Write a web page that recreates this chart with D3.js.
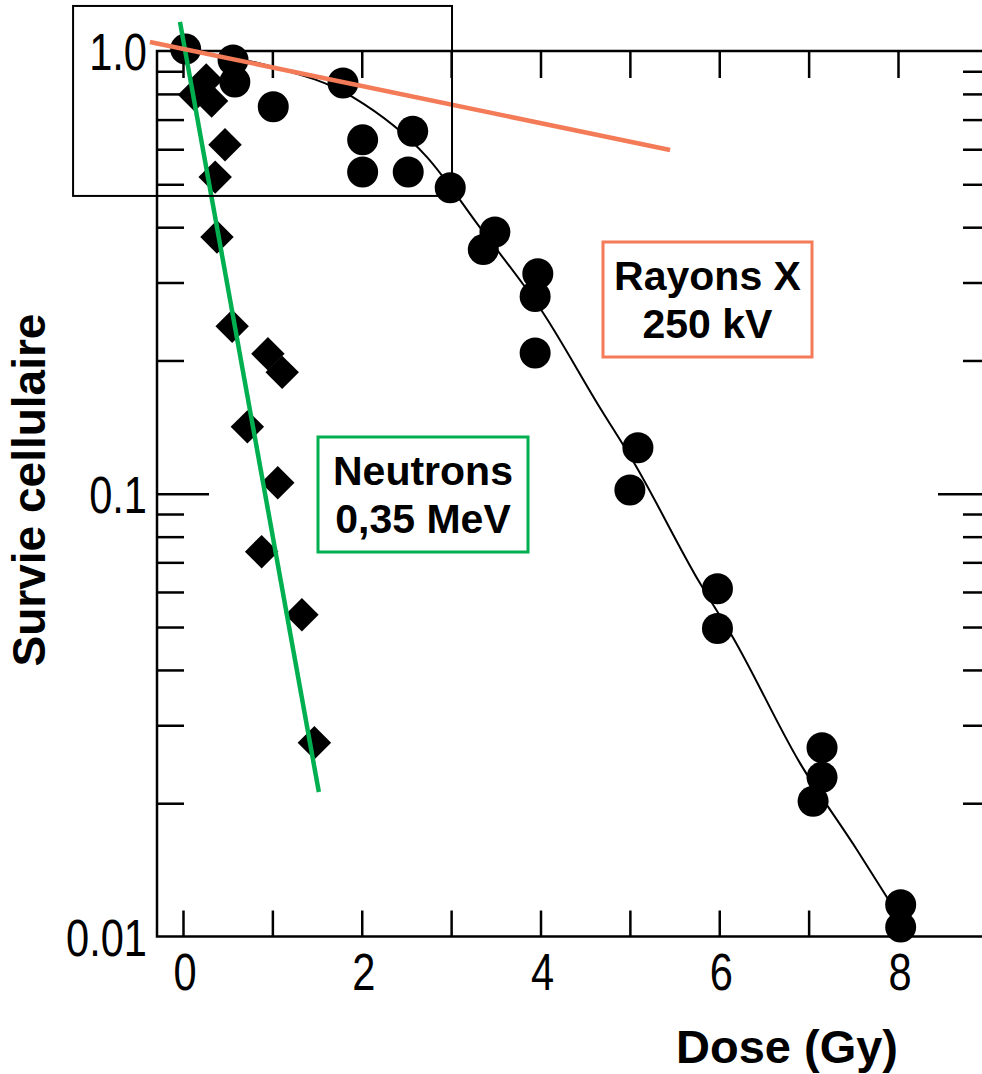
<!DOCTYPE html>
<html>
<head>
<meta charset="utf-8">
<script src="https://cdn.jsdelivr.net/npm/d3@7"></script>
<style>
    body { margin: 0; background: #fff; }
    svg { display: block; font-family: 'Liberation Sans', Arial, sans-serif; }
    .axis path, .axis line { stroke: #000; stroke-width: 2.5; fill: none; }
    .tick-label { font-size: 52px; fill: #000; }
    .title { font-size: 46px; font-weight: bold; fill: #000; }
    .legend text { font-size: 41px; font-weight: bold; text-anchor: middle; fill: #000; }
</style>
</head>
<body>
<svg id="chart" width="982" height="1074"></svg>
<script>
// dose (Gy), survival fraction
const xrayPoints = [
    [0.03, 1.01], [0.56, 0.954], [0.58, 0.851], [1.01, 0.748], [1.79, 0.847],
    [2.01, 0.630], [2.01, 0.533], [2.57, 0.659], [2.52, 0.533], [2.99, 0.491],
    [3.49, 0.390], [3.36, 0.356], [3.97, 0.314], [3.94, 0.279], [3.94, 0.208],
    [5.09, 0.127], [5.00, 0.102], [5.98, 0.061], [5.98, 0.0496], [7.15, 0.0267],
    [7.15, 0.0229], [7.05, 0.0202], [8.03, 0.0118], [8.03, 0.0105]
];
const neutronPoints = [
    [0.13, 0.796], [0.26, 0.860], [0.32, 0.771], [0.47, 0.614], [0.36, 0.519],
    [0.38, 0.380], [0.55, 0.239], [0.95, 0.207], [1.11, 0.188], [0.72, 0.1416],
    [1.06, 0.1059], [0.88, 0.0740], [1.33, 0.0533], [1.47, 0.0274]
];
// fitted curve through the X-ray data
const xrayCurve = [
    [0, 1.0], [0.97, 0.925], [1.9, 0.787], [2.73, 0.576], [3.32, 0.40],
    [4.03, 0.256], [4.66, 0.157], [5.03, 0.119], [5.78, 0.063], [6.15, 0.0475],
    [6.9, 0.0247], [7.54, 0.0157], [8.0, 0.0112]
];
// initial slopes drawn over the figure
const xraySlope = [[-0.37, 1.048], [5.45, 0.5975]];
const neutronSlope = [[-0.034, 1.163], [1.52, 0.0212]];
// highlighted shoulder region
const shoulderBox = {x0: -1.23, x1: 3.01, y0: 1.264, y1: 0.4706};

const doseTicks = [0, 1, 2, 3, 4, 5, 6, 7, 8, 9];
const doseLabels = [0, 2, 4, 6, 8];
const survivalMinor = [0.02, 0.03, 0.04, 0.05, 0.06, 0.07, 0.08, 0.09,
                       0.2, 0.3, 0.4, 0.5, 0.6, 0.7, 0.8, 0.9];
const survivalMajor = [0.1];
const survivalLabels = [[1, '1.0'], [0.1, '0.1'], [0.01, '0.01']];

const green = '#00b050';
const orange = '#f37b58';

const svg = d3.select('#chart');
svg.append('rect').attr('width', 982).attr('height', 1074).attr('fill', '#fff');

const frame = {left: 157, right: 990, top: 51, bottom: 936.5};

// x: 0 Gy sits at 183px, 8 Gy at 898px
const xScale = d3.scaleLinear().domain([0, 8]).range([183, 898]);
const yScale = d3.scaleLog().domain([0.01, 1]).range([frame.bottom, frame.top]);

// frame: axes on all four sides, ticks pointing inward
function frameAxis(gen, tx, ty, values, size) {
    svg.append('g')
        .attr('class', 'axis')
        .attr('transform', 'translate(' + tx + ',' + ty + ')')
        .call(gen.tickValues(values).tickSize(-size).tickSizeOuter(0).tickFormat(''))
        .call(g => g.select('.domain').remove());
}
frameAxis(d3.axisLeft(yScale), frame.left, 0, survivalMinor, 27);
frameAxis(d3.axisLeft(yScale), frame.left, 0, survivalMajor, 52);
frameAxis(d3.axisRight(yScale), frame.right, 0, survivalMinor, 27);
frameAxis(d3.axisRight(yScale), frame.right, 0, survivalMajor, 52);
frameAxis(d3.axisBottom(xScale), 0, frame.bottom, doseTicks, 26);
frameAxis(d3.axisTop(xScale), 0, frame.top, doseTicks, 27);

svg.append('path')
    .attr('d', 'M' + frame.left + ',' + frame.top + 'H' + frame.right + 'V' + frame.bottom + 'H' + frame.left + 'Z')
    .attr('fill', 'none').attr('stroke', '#000').attr('stroke-width', 2.5);

// tick labels, condensed
svg.selectAll('.ylab')
    .data(survivalLabels)
    .enter().append('text')
    .attr('class', 'tick-label')
    .attr('text-anchor', 'end')
    .attr('transform', d => 'translate(147,' + (yScale(d[0]) + 19) + ') scale(0.8,1)')
    .text(d => d[1]);

svg.selectAll('.xlab')
    .data(doseLabels)
    .enter().append('text')
    .attr('class', 'tick-label')
    .attr('text-anchor', 'middle')
    .attr('transform', d => 'translate(' + (xScale(d) + 2) + ',990) scale(0.8,1)')
    .text(d => d);

// axis titles
svg.append('text')
    .attr('class', 'title')
    .attr('text-anchor', 'middle')
    .attr('transform', 'translate(45,490) rotate(-90)')
    .text('Survie cellulaire');

svg.append('text')
    .attr('class', 'title')
    .attr('text-anchor', 'end')
    .attr('x', 898).attr('y', 1063)
    .style('font-size', '47px')
    .text('Dose (Gy)');

const line = d3.line()
    .x(d => xScale(d[0]))
    .y(d => yScale(d[1]));

// X-ray fit
svg.append('path')
    .datum(xrayCurve)
    .attr('d', line.curve(d3.curveMonotoneX))
    .attr('fill', 'none').attr('stroke', '#000').attr('stroke-width', 2);
line.curve(d3.curveLinear);

// data points
svg.selectAll('.xray')
    .data(xrayPoints)
    .enter().append('circle')
    .attr('class', 'xray')
    .attr('r', 15.5)
    .attr('cx', d => xScale(d[0]))
    .attr('cy', d => yScale(d[1]))
    .attr('fill', '#000');

const diamond = d3.symbol().type(d3.symbolSquare).size(560);
svg.selectAll('.neutron')
    .data(neutronPoints)
    .enter().append('path')
    .attr('class', 'neutron')
    .attr('d', diamond)
    .attr('transform', d => 'translate(' + xScale(d[0]) + ',' + yScale(d[1]) + ') rotate(45)')
    .attr('fill', '#000');

// slope lines
svg.append('path')
    .datum(neutronSlope)
    .attr('d', line)
    .attr('stroke', green).attr('stroke-width', 4.5).attr('fill', 'none');

svg.append('path')
    .datum(xraySlope)
    .attr('d', line)
    .attr('stroke', orange).attr('stroke-width', 4.5).attr('fill', 'none');

// shoulder box
svg.append('rect')
    .attr('x', xScale(shoulderBox.x0))
    .attr('y', yScale(shoulderBox.y0))
    .attr('width', xScale(shoulderBox.x1) - xScale(shoulderBox.x0))
    .attr('height', yScale(shoulderBox.y1) - yScale(shoulderBox.y0))
    .attr('fill', 'none').attr('stroke', '#000').attr('stroke-width', 2);

// legend boxes
function legend(x, y, w, h, color, lines) {
    let g = svg.append('g').attr('class', 'legend').attr('transform', 'translate(' + x + ',' + y + ')');
    g.append('rect')
        .attr('width', w).attr('height', h)
        .attr('fill', '#fff').attr('stroke', color).attr('stroke-width', 3);
    g.selectAll('text')
        .data(lines)
        .enter().append('text')
        .attr('x', w / 2)
        .attr('y', (d, i) => 48 + i * 48)
        .text(d => d);
}
legend(603, 242, 209, 115, orange, ['Rayons X', '250 kV']);
legend(318, 437, 210, 115, green, ['Neutrons', '0,35 MeV']);
</script>
</body>
</html>
